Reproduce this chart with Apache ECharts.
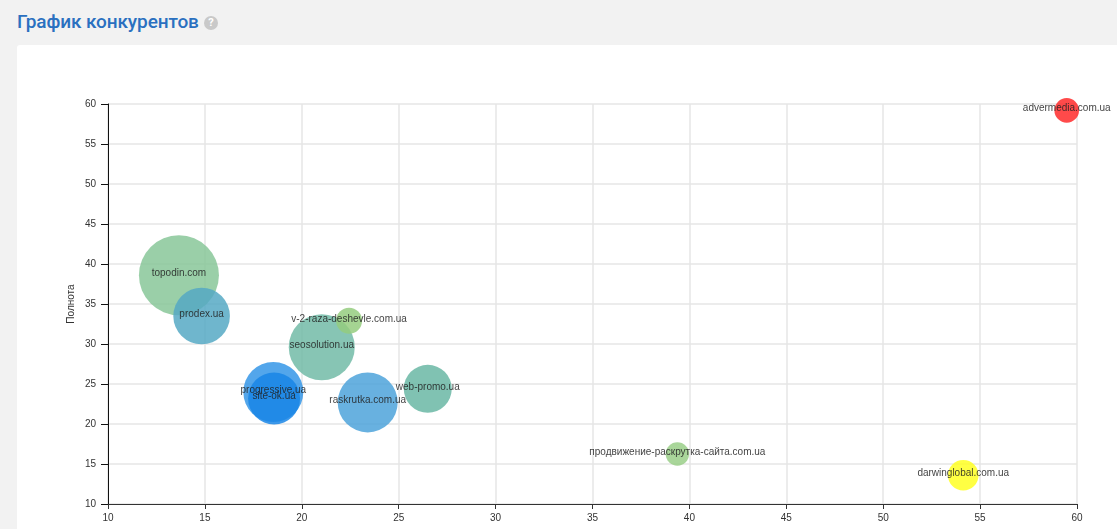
<!DOCTYPE html>
<html><head><meta charset="utf-8">
<script src="https://cdn.jsdelivr.net/npm/echarts@6/dist/echarts.min.js"></script>
<style>
html,body{margin:0;padding:0;width:1117px;height:529px;overflow:hidden;background:#f2f2f2;font-family:Roboto,"Liberation Sans",sans-serif;}
#title{position:absolute;left:17px;top:10px;font-size:19px;font-weight:500;color:#2a70c0;letter-spacing:-0.1px;}
#q{display:inline-block;width:14px;height:14px;border-radius:50%;background:#c9c9c9;color:#fff;font-size:11px;font-weight:700;text-align:center;line-height:14px;vertical-align:2px;margin-left:5px;}
#card{position:absolute;left:17px;top:45px;width:1110px;height:500px;background:#fff;border-radius:3px;}
#chart{position:absolute;left:0;top:0;width:1117px;height:529px;}
</style></head>
<body>
<div id="title">График конкурентов<span id="q">?</span></div>
<div id="card"></div>
<div id="chart"></div>
<script>
const names = ["topodin.com","prodex.ua","seosolution.ua","v-2-raza-deshevle.com.ua","progressive.ua","site-ok.ua","raskrutka.com.ua","web-promo.ua","продвижение-раскрутка-сайта.com.ua","darwinglobal.com.ua","advermedia.com.ua"];
const xValues = [13.66,14.83,21.03,22.44,18.53,18.57,23.4,26.5,39.38,54.13,59.47];
const yValues = [38.6,33.5,29.6,32.9,24.0,23.2,22.7,24.4,16.25,13.6,59.2];
const bubbleSizes = [40,28.3,33,13,30,26,30,24,11.7,15.3,12.3];
const xTicks = [10,15,20,25,30,35,40,45,50,55,60];
const yTicks = [10,15,20,25,30,35,40,45,50,55,60];
const yAxisName = "Полнота";
const palette = ["#88c799","#56a9c4","#72bba7","#95cd7f","#3597e8","#1a86e6","#4ea3da","#6ab7a4","#9acf88","#ffff22","#ff2a2a"];

const chart = echarts.init(document.getElementById('chart'));
const data = names.map((n,i)=>({name:n,value:[xValues[i],yValues[i],bubbleSizes[i]],itemStyle:{color:palette[i],opacity:0.85}}));
chart.setOption({
  animation:false,
  grid:{left:108,top:104,right:40,bottom:25,containLabel:false},
  xAxis:{type:'value',min:xTicks[0],max:xTicks[xTicks.length-1],interval:5,
    axisLine:{show:true,onZero:false,lineStyle:{color:'#333',width:1}},
    axisTick:{show:true,length:5,lineStyle:{color:'#333'}},
    axisLabel:{fontSize:10,color:'#333',fontFamily:'Liberation Sans',margin:9},
    splitLine:{show:true,lineStyle:{color:'#e6e6e6',width:1.5}}},
  yAxis:{type:'value',min:yTicks[0],max:yTicks[yTicks.length-1],interval:5,
    name:yAxisName,nameLocation:'middle',nameRotate:90,nameGap:32,nameMoveOverlap:false,
    nameTextStyle:{fontSize:10,color:'#333',fontFamily:'Liberation Sans'},
    axisLine:{show:true,onZero:false,lineStyle:{color:'#111',width:1}},
    axisTick:{show:true,length:7,lineStyle:{color:'#111'}},
    axisLabel:{fontSize:10,color:'#333',fontFamily:'Liberation Sans',margin:12},
    splitLine:{show:true,lineStyle:{color:'#e6e6e6',width:1.5}}},
  series:[{type:'scatter',data:data,
    symbolSize:v=>v[2]*2,
    label:{show:true,position:'inside',offset:[0,-2],formatter:p=>p.name,fontSize:10,color:'#222',fontFamily:'Liberation Sans'},
    emphasis:{disabled:true}}]
});
</script>
</body></html>
